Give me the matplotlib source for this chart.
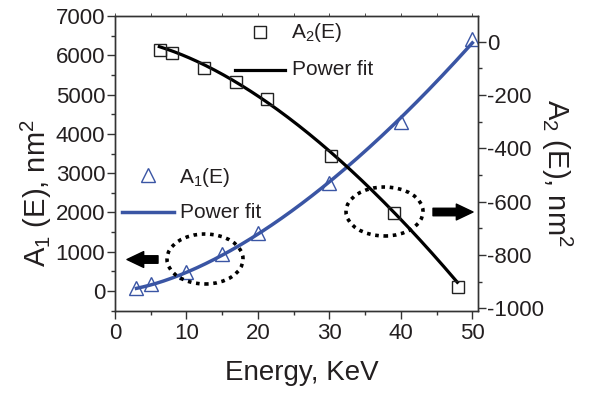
import numpy as np
import matplotlib
matplotlib.use("Agg")
import matplotlib.pyplot as plt
from matplotlib.patches import Ellipse
from matplotlib.ticker import MultipleLocator

plt.rcParams['font.family'] = ['Liberation Sans', 'DejaVu Sans']
plt.rcParams['mathtext.fontset'] = 'custom'
plt.rcParams['mathtext.rm'] = 'Liberation Sans'
plt.rcParams['mathtext.it'] = 'Liberation Sans'
plt.rcParams['axes.unicode_minus'] = False

# ---- data ----
energy_a1 = [3, 5, 10, 15, 20, 30, 40, 50]
a1_values = [84, 178, 491, 941, 1483, 2756, 4308, 6404]

energy_a2 = [6.3, 8.0, 12.45, 16.9, 21.2, 30.2, 39.0, 48.0]
a2_values = [-31, -44, -100, -152, -216, -429, -642, -919]

# power-fit parameters  y = offset + coef * E**power, over [e_start, e_end]
a1_fit = [0.0, 11.8, 1.606, 3.0, 50.0]
a2_fit = [12.4, -1.5445, 1.65, 6.2, 47.9]

x_ticks = [0, 10, 20, 30, 40, 50]
left_ticks = [0, 1000, 2000, 3000, 4000, 5000, 6000, 7000]
right_ticks = [-1000, -800, -600, -400, -200, 0]

TXT = '#231f20'
BLUE = '#3a55a4'

fig = plt.figure(figsize=(5.91, 3.94), dpi=100)
ax = fig.add_axes([0.1946, 0.2114, 0.8083 - 0.1946, 0.9594 - 0.2114])
ax2 = ax.twinx()

# A1 on left axis
e1 = np.linspace(a1_fit[3], a1_fit[4], 200)
ax.plot(e1, a1_fit[0] + a1_fit[1] * e1 ** a1_fit[2], color=BLUE, lw=2.5, zorder=3)
ax.plot(energy_a1, a1_values, linestyle='none', marker='^', ms=9.5, mfc='none',
        mec=BLUE, mew=1.0, zorder=4)

# A2 on right axis
e2 = np.linspace(a2_fit[3], a2_fit[4], 200)
ax2.plot(e2, a2_fit[0] + a2_fit[1] * e2 ** a2_fit[2], color='black', lw=2.3, zorder=3)
ax2.plot(energy_a2, a2_values, linestyle='none', marker='s', ms=9, mfc='none',
         mec='#222222', mew=1.0, zorder=4)

ax.set_xlim(0, 50.75)
ax.set_ylim(-500, 7000)
ax2.set_ylim(-1009, 96)

ax.set_xticks(x_ticks)
ax.set_yticks(left_ticks)
ax2.set_yticks(right_ticks)
ax.xaxis.set_minor_locator(MultipleLocator(5))
ax.yaxis.set_minor_locator(MultipleLocator(500))
ax2.yaxis.set_minor_locator(MultipleLocator(100))

for a in (ax, ax2):
    for s in a.spines.values():
        s.set_color('#333333')
        s.set_linewidth(1.0)

ax.tick_params(axis='both', which='major', direction='out', length=6, width=1,
               colors='#333333', labelcolor=TXT, labelsize=16, pad=1)
ax.tick_params(axis='both', which='minor', direction='out', length=3, width=1,
               colors='#333333')
ax.tick_params(axis='x', pad=3)
ax2.tick_params(axis='y', which='major', direction='out', length=6, width=1,
                colors='#333333', labelcolor=TXT, labelsize=16, pad=1)
ax2.tick_params(axis='y', which='minor', direction='out', length=3, width=1,
                colors='#333333')
# top ticks very small
ax.xaxis.set_tick_params(which='both', top=True)
for t in ax.xaxis.get_major_ticks() + ax.xaxis.get_minor_ticks():
    t.tick2line.set_markersize(2)
    t.tick2line.set_markeredgewidth(0.6)
    t.tick2line.set_color('#888888')

# axis labels
ax.text(-0.216, 0.398, r'A$_\mathregular{1}$ (E), nm$^\mathregular{2}$', transform=ax.transAxes,
        rotation=90, ha='center', va='center', fontsize=21, color=TXT)
ax.text(1.218, 0.467, r'A$_\mathregular{2}$ (E), nm$^\mathregular{2}$', transform=ax.transAxes,
        rotation=270, ha='center', va='center', fontsize=21, color=TXT)
ax.text(0.5156, -0.211, 'Energy, KeV', transform=ax.transAxes,
        ha='center', va='center', fontsize=20, color=TXT)

# legends (drawn manually, axes-fraction coords)
def px(x, y):
    return ((x - 115) / 362.7, (310.7 - y) / 294.7)

x0, y0 = px(260, 31.7)
ax2.plot([x0], [y0], transform=ax.transAxes, marker='s', ms=9, mfc='none',
         mec='#222222', mew=1.0, clip_on=False)
tx, ty = px(291, 33)
ax2.text(tx, ty, r'A$_\mathregular{2}$(E)', transform=ax.transAxes, fontsize=15,
         color=TXT, ha='left', va='center')
xa, ya = px(235, 70)
xb, _ = px(285, 70)
ax2.plot([xa, xb], [ya, ya], transform=ax.transAxes, color='black', lw=2.3, clip_on=False)
tx, ty = px(292, 70)
ax2.text(tx, ty, 'Power fit', transform=ax.transAxes, fontsize=15, color=TXT,
         ha='left', va='center')

x0, y0 = px(148.3, 175)
ax2.plot([x0], [y0], transform=ax.transAxes, marker='^', ms=9.5, mfc='none',
         mec=BLUE, mew=1.0, clip_on=False)
tx, ty = px(179, 177)
ax2.text(tx, ty, r'A$_\mathregular{1}$(E)', transform=ax.transAxes, fontsize=15,
         color=TXT, ha='left', va='center')
xa, ya = px(122.3, 211.7)
xb, _ = px(174.3, 211.7)
ax2.plot([xa, xb], [ya, ya], transform=ax.transAxes, color=BLUE, lw=2.5, clip_on=False)
tx, ty = px(180, 212)
ax2.text(tx, ty, 'Power fit', transform=ax.transAxes, fontsize=15, color=TXT,
         ha='left', va='center')

# dotted ellipses
for (cx, cy, w, h) in [(205, 259, 76, 50), (384.5, 211.5, 77, 49)]:
    ccx, ccy = px(cx, cy)
    e = Ellipse((ccx, ccy), w / 362.7, h / 294.7, transform=ax.transAxes,
                fill=False, ec='black', lw=2.6, ls=(0, (1, 1.3)), zorder=5)
    ax2.add_patch(e)

# arrows
for (xs, xe, y) in [(158, 127, 259.5), (433, 473, 212)]:
    s = px(xs, y)
    t = px(xe, y)
    ax2.annotate('', xy=t, xytext=s, xycoords=ax.transAxes, textcoords=ax.transAxes,
                 arrowprops=dict(arrowstyle='simple,head_length=1.0,head_width=0.95,tail_width=0.45',
                                 fc='black', ec='black', shrinkA=0, shrinkB=0,
                                 mutation_scale=12), annotation_clip=False)

fig.savefig('out.png', dpi=100)
